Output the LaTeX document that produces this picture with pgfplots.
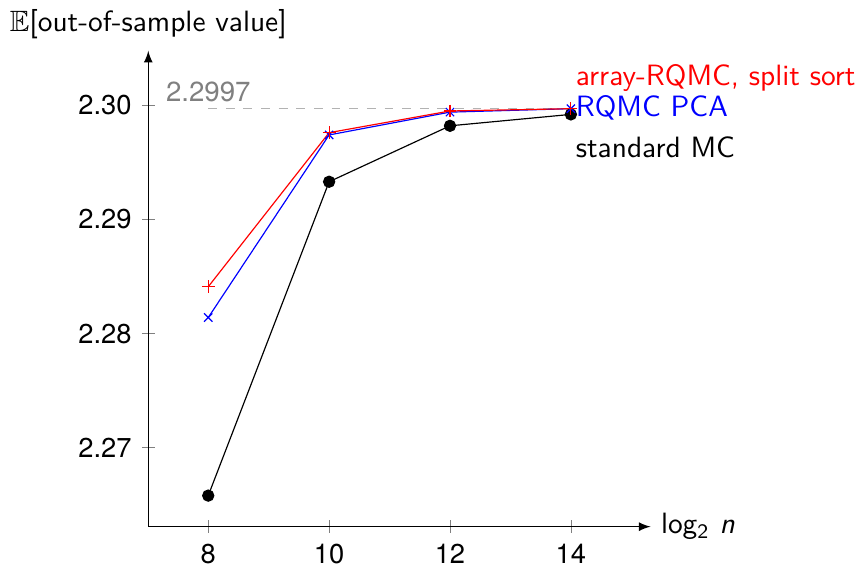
\documentclass[border=0pt]{standalone}
\usepackage{amssymb}
\usepackage{fontspec}
\newfontfamily\helv{TeX Gyre Heros}
\usepackage{pgfplots}
\pgfplotsset{compat=1.18}
\begin{document}
\begin{tikzpicture}[font=\sffamily]
\begin{axis}[
  scale only axis,
  width=171pt, height=162pt,
  axis lines=left,
  axis line style={-latex},
  tick align=center,
  xmin=7.008, xmax=15.32,
  ymin=2.26308, ymax=2.30478,
  xtick={8,10,12,14},
  ytick={2.27,2.28,2.29,2.30},
  /pgf/number format/assume math mode=true,
  ticklabel style={font=\helv\fontsize{9.3}{11}\selectfont},
  xticklabel style={inner ysep=1pt, yshift=-2.6pt},
  yticklabel style={/pgf/number format/fixed, /pgf/number format/precision=2, /pgf/number format/fixed zerofill},
  xlabel={log\textsubscript{2} \textsl{n}},
  xlabel style={at={(rel axis cs:1,0)}, anchor=west, xshift=0pt},
  ylabel={$\mathbb{E}$[out-of-sample value]},
  ylabel style={at={(rel axis cs:0,1)}, rotate=-90, anchor=south, yshift=0.4pt, xshift=0pt},
  clip=false,
]
\addplot[gray!60, dashed, line width=0.5pt] coordinates {(8,2.2997) (14,2.2997)};
\addplot[black, mark=*, mark size=1.9pt, line width=0.4pt] coordinates {(8,2.2658) (10,2.2933) (12,2.2982) (14,2.2992)};
\addplot[blue, mark=x, mark size=2pt, line width=0.4pt] coordinates {(8,2.2814) (10,2.2974) (12,2.2994) (14,2.2997)};
\addplot[red, mark=+, mark size=2.2pt, line width=0.4pt] coordinates {(8,2.2841) (10,2.2976) (12,2.2995) (14,2.2997)};
\node[gray, anchor=south, inner sep=2pt, font=\helv\fontsize{9.4}{11}\selectfont] at (axis cs:8,2.2997) {2.2997};
\node[red, anchor=west, inner sep=1.5pt] at (axis cs:14,2.30239) {array-RQMC, split sort};
\node[blue, anchor=west, inner sep=1.5pt] at (axis cs:14,2.29982) {RQMC PCA};
\node[black, anchor=west, inner sep=1.5pt] at (axis cs:14,2.2963) {standard MC};
\end{axis}
\end{tikzpicture}
\end{document}
